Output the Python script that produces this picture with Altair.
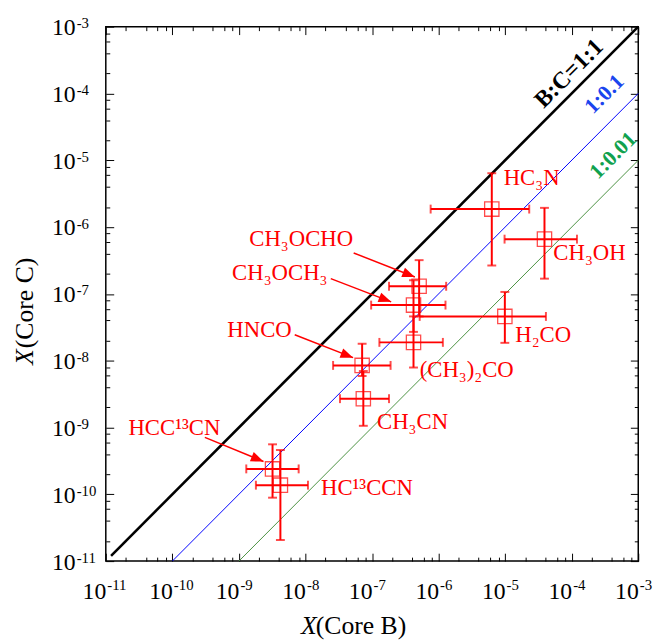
import math
import altair as alt
import pandas as pd

FONT = "Liberation Serif"
DOMAIN = [1e-11, 1e-3]

# ---- molecules (Core B abundance on x, Core C abundance on y) ----
mol_names = ["HC3N", "CH3OH", "H2CO", "CH3OCHO", "CH3OCH3",
             "(CH3)2CO", "HNCO", "CH3CN", "HCC13CN", "HC13CCN"]
x_val = [6.3e-6, 3.9e-5, 9.9e-6, 5.1e-7, 4.2e-7, 4.2e-7, 7.1e-8, 7.4e-8, 3.2e-9, 4.2e-9]
x_lo = [7.6e-7, 9.8e-6, 5.2e-7, 1.8e-7, 9.7e-8, 1.29e-7, 2.6e-8, 3.3e-8, 1.29e-9, 1.8e-9]
x_hi = [2.3e-5, 1.2e-4, 4.1e-5, 1.3e-6, 1.27e-6, 1.16e-6, 1.9e-7, 1.8e-7, 7.9e-9, 1.09e-8]
y_val = [1.86e-6, 6.6e-7, 4.6e-8, 1.3e-7, 6.8e-8, 1.88e-8, 8.5e-9, 2.7e-9, 2.4e-10, 1.37e-10]
y_lo = [2.66e-7, 1.69e-7, 1.85e-8, 4.6e-8, 2.7e-8, 7.9e-9, 5.9e-9, 1.06e-9, 8.9e-11, 2.07e-11]
y_hi = [6.4e-6, 1.94e-6, 1.07e-7, 3.2e-7, 1.6e-7, 4.6e-8, 1.8e-8, 7.0e-9, 5.6e-10, 4.6e-10]

# ---- molecule labels ----
label_text = ["HC₃N", "CH₃OH", "H₂CO", "CH₃OCHO", "CH₃OCH₃",
              "(CH₃)₂CO", "HNCO", "CH₃CN", "HCC¹³CN", "HC¹³CCN"]
label_x = [9.5e-6, 5.3e-5, 1.42e-5, 1.43e-9, 7.9e-10, 5.2e-7, 6.7e-10, 1.19e-7, 2.19e-11, 1.71e-8]
label_y = [4.3e-6, 3.2e-7, 1.88e-8, 5.25e-7, 1.63e-7, 5.7e-9, 2.26e-8, 9.6e-10, 7.7e-10, 9.9e-11]

# ---- arrows (label -> point) ----
arrow_x0 = [5.3e-8, 2.4e-8, 6.9e-9, 3.08e-10]
arrow_y0 = [4.1e-7, 1.69e-7, 2.45e-8, 7.1e-10]
arrow_x1 = [4.4e-7, 1.94e-7, 5.2e-8, 2.34e-9]
arrow_y1 = [1.79e-7, 7.6e-8, 1.11e-8, 3.1e-10]

# ---- ratio lines ----
line_11_x = [1.2e-11, 1e-3]
line_11_y = [1.2e-11, 1e-3]
line_01_x = [1e-10, 1e-3]
line_01_y = [1e-11, 1e-4]
line_001_x = [1e-9, 1e-3]
line_001_y = [1e-11, 1e-5]

ratio_labels = ["B:C=1:1", "1:0.1", "1:0.01"]
ratio_label_x = [9.14e-5, 3.08e-4, 4.15e-4]
ratio_label_y = [1.98e-4, 9.86e-5, 1.19e-5]

# ---- ticks ----
major_ticks = [1e-11, 1e-10, 1e-9, 1e-8, 1e-7, 1e-6, 1e-5, 1e-4, 1e-3]
tick_base = "10"
tick_exponents = ["-11", "-10", "-9", "-8", "-7", "-6", "-5", "-4", "-3"]
minor_ticks = [m * 10.0 ** e for e in range(-11, -3) for m in (2, 4, 6, 8)]

exp_expr = "[" + ",".join("'%s'" % s for s in tick_exponents) + "][round(log(datum.value)/LN10)+11]"
base_expr = "'%s'" % tick_base

# ---- tables ----
mol_df = pd.DataFrame({"name": mol_names, "x": x_val, "xlo": x_lo, "xhi": x_hi,
                       "y": y_val, "ylo": y_lo, "yhi": y_hi})
lab_df = pd.DataFrame({"text": label_text, "x": label_x, "y": label_y})
ang = []
for a, b, c, d in zip(arrow_x0, arrow_y0, arrow_x1, arrow_y1):
    dx = math.log10(c) - math.log10(a)
    dy = -(math.log10(d) - math.log10(b))
    ang.append(math.degrees(math.atan2(dy, dx)) % 360)
arr_df = pd.DataFrame({"x0": arrow_x0, "y0": arrow_y0, "x1": arrow_x1, "y1": arrow_y1, "angle": ang})
l11 = pd.DataFrame({"x": line_11_x, "y": line_11_y})
l01 = pd.DataFrame({"x": line_01_x, "y": line_01_y})
l001 = pd.DataFrame({"x": line_001_x, "y": line_001_y})
rl_df = pd.DataFrame({"text": ratio_labels, "x": ratio_label_x, "y": ratio_label_y})


def sc():
    return alt.Scale(type="log", domain=DOMAIN)


common = dict(domain=False, grid=False, tickColor="black", tickWidth=1)
title_common = dict(titleFont=FONT, titleFontSize=26, titleColor="black",
                    titleBaseline="alphabetic", titleAlign="left")

# bottom: "10" labels + italic X title
ax_bottom_major = alt.Axis(orient="bottom", values=major_ticks, tickSize=8, offset=-8,
                           labelExpr=base_expr, labelFont=FONT, labelFontSize=24,
                           labelAlign="right", labelBaseline="alphabetic", labelOffset=0,
                           labelPadding=38, labelFlush=False, labelOverlap=False,
                           labelColor="black", title="X", titleFontStyle="italic",
                           titleFontWeight="normal", titleX=197, titleY=81,
                           **title_common, **common)
# bottom: minor ticks + rest of title
ax_bottom_minor = alt.Axis(orient="bottom", values=minor_ticks, tickSize=4, offset=-4,
                           labels=False, title="(Core B)", titleFontWeight="normal",
                           titleX=212, titleY=77, **title_common, **common)
# bottom: exponent labels
ax_bottom_exp = alt.Axis(orient="bottom", values=major_ticks, tickSize=8, offset=-8,
                         tickOpacity=0, labelExpr=exp_expr, labelFont=FONT, labelFontSize=15,
                         labelAlign="left", labelBaseline="alphabetic", labelOffset=1,
                         labelPadding=29, labelFlush=False, labelOverlap=False,
                         labelColor="black", title=None, domain=False, grid=False)

ax_left_major = alt.Axis(orient="left", values=major_ticks, tickSize=8, offset=-8,
                         labelExpr=base_expr, labelFont=FONT, labelFontSize=24,
                         labelAlign="left", labelBaseline="middle", labelOffset=1,
                         labelPadding=55, labelFlush=False, labelOverlap=False,
                         labelColor="black", title="X", titleFontStyle="italic",
                         titleFontWeight="normal", titleX=-82, titleY=342, titleAngle=270,
                         **title_common, **common)
ax_left_minor = alt.Axis(orient="left", values=minor_ticks, tickSize=4, offset=-4,
                         labels=False, title="(Core C)", titleFontWeight="normal",
                         titleX=-78, titleY=325, titleAngle=270, **title_common, **common)
ax_left_exp = alt.Axis(orient="left", values=major_ticks, tickSize=8, offset=-8,
                       tickOpacity=0, labelExpr=exp_expr, labelFont=FONT, labelFontSize=15,
                       labelAlign="left", labelBaseline="middle", labelOffset=-4,
                       labelPadding=30, labelFlush=False, labelOverlap=False,
                       labelColor="black", title=None, domain=False, grid=False)


def plain_axis(orient, values, size):
    return alt.Axis(orient=orient, values=values, tickSize=size, offset=-size,
                    labels=False, title=None, **common)


ax_top_major = plain_axis("top", major_ticks, 8)
ax_right_major = plain_axis("right", major_ticks, 8)
ax_top_minor = plain_axis("top", minor_ticks, 4)
ax_right_minor = plain_axis("right", minor_ticks, 4)

RED = "#ff0000"

line11 = alt.Chart(l11).mark_line(color="black", strokeWidth=2.6).encode(
    x=alt.X("x:Q", scale=sc(), axis=ax_bottom_major),
    y=alt.Y("y:Q", scale=sc(), axis=ax_left_major))
line01 = alt.Chart(l01).mark_line(color="#0000ff", strokeWidth=1).encode(
    x=alt.X("x:Q", scale=sc(), axis=ax_bottom_minor),
    y=alt.Y("y:Q", scale=sc(), axis=ax_left_minor))
line001 = alt.Chart(l001).mark_line(color="#4b9142", strokeWidth=1).encode(
    x=alt.X("x:Q", scale=sc(), axis=ax_top_major),
    y=alt.Y("y:Q", scale=sc(), axis=ax_right_major))

xbars = alt.Chart(mol_df).mark_rule(color=RED, strokeWidth=2).encode(
    x=alt.X("xlo:Q", scale=sc(), axis=ax_top_minor), x2="xhi:Q",
    y=alt.Y("y:Q", scale=sc(), axis=ax_right_minor))
ybars = alt.Chart(mol_df).mark_rule(color=RED, strokeWidth=2).encode(
    x=alt.X("x:Q", scale=sc(), axis=ax_bottom_exp),
    y=alt.Y("ylo:Q", scale=sc(), axis=ax_left_exp), y2="yhi:Q")


def cap(xf, yf, orient):
    return alt.Chart(mol_df).mark_tick(color=RED, orient=orient, size=9, thickness=2).encode(
        x=alt.X(xf + ":Q", scale=sc(), axis=None),
        y=alt.Y(yf + ":Q", scale=sc(), axis=None))


caps = [cap("x", "ylo", "horizontal"), cap("x", "yhi", "horizontal"),
        cap("xlo", "y", "vertical"), cap("xhi", "y", "vertical")]

squares = alt.Chart(mol_df).mark_point(shape="square", filled=False, color=RED,
                                       size=210, strokeWidth=1.3).encode(
    x=alt.X("x:Q", scale=sc(), axis=None),
    y=alt.Y("y:Q", scale=sc(), axis=None))

labels = alt.Chart(lab_df).mark_text(align="left", baseline="alphabetic", font=FONT,
                                     fontSize=23, color=RED).encode(
    x=alt.X("x:Q", scale=sc(), axis=None),
    y=alt.Y("y:Q", scale=sc(), axis=None),
    text="text:N")

arrow_lines = alt.Chart(arr_df).mark_rule(color=RED, strokeWidth=1.5).encode(
    x=alt.X("x0:Q", scale=sc(), axis=None), x2="x1:Q",
    y=alt.Y("y0:Q", scale=sc(), axis=None), y2="y1:Q")
arrow_heads = alt.Chart(arr_df).mark_point(shape="M0,0L-1,-0.4L-1,0.4Z", filled=True,
                                           color=RED, size=650, opacity=1).encode(
    x=alt.X("x1:Q", scale=sc(), axis=None),
    y=alt.Y("y1:Q", scale=sc(), axis=None),
    angle=alt.Angle("angle:Q", scale=None))

ratio_colors = ["black", "#1a44ee", "#11a14e"]
ratio_sizes = [24, 22, 22]
ratio_texts = []
for i, col in enumerate(ratio_colors):
    ratio_texts.append(
        alt.Chart(rl_df.iloc[[i]]).mark_text(angle=315, font=FONT, fontWeight="bold",
                                              fontSize=ratio_sizes[i], color=col,
                                              align="center", baseline="middle").encode(
            x=alt.X("x:Q", scale=sc(), axis=None),
            y=alt.Y("y:Q", scale=sc(), axis=None),
            text="text:N"))

chart = alt.layer(
    line11, line01, line001, xbars, ybars, *caps, squares, labels,
    arrow_lines, arrow_heads, *ratio_texts
).resolve_axis(x="independent", y="independent").properties(
    width=539, height=541, autosize="none",
    padding={"left": 99, "top": 15, "right": 21, "bottom": 79}
).configure_view(stroke="black", strokeWidth=1.5)

chart.save("out.html", embed_options={"renderer": "svg", "actions": False})
